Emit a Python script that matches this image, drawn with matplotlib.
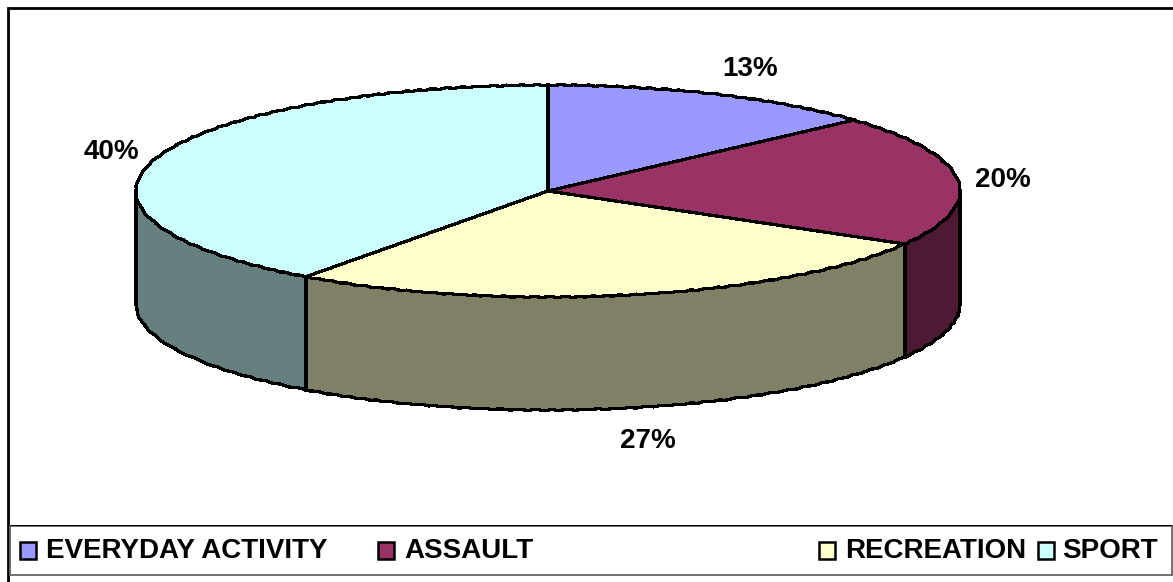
import matplotlib
matplotlib.use("Agg")
import matplotlib.pyplot as plt
import numpy as np
from matplotlib.patches import Rectangle

plt.rcParams["font.family"] = ["Liberation Sans", "DejaVu Sans"]

categories = ["EVERYDAY ACTIVITY", "ASSAULT", "RECREATION", "SPORT"]
values = [13.33, 20, 26.67, 40]
pct_labels = ["13%", "20%", "27%", "40%"]
top_colors = ["#9999FF", "#993366", "#FFFFCC", "#CCFFFF"]
side_colors = ["#4D4D80", "#4D1933", "#808066", "#668080"]

W, H = 1173, 582
CX, CY, RX, RY, DEPTH = 548, 191, 412, 106, 113
EDGE = 1.6
WOBBLE = (0.45, 16, 2)

fig = plt.figure(figsize=(W / 100, H / 100), dpi=100, facecolor="white")
ax = fig.add_axes([0, 0, 1, 1])
ax.axis("off")


def px(x, y):
    # picture pixels -> figure fraction
    return x / W, 1 - y / H


def box(x0, y0, x1, y1, **kw):
    r = Rectangle(px(x0, y1), (x1 - x0) / W, (y1 - y0) / H, transform=fig.transFigure, **kw)
    fig.add_artist(r)


def rough(xs, ys, z):
    line, = ax.plot(xs, ys, color="black", lw=EDGE, zorder=z, antialiased=False)
    line.set_sketch_params(*WOBBLE)


# outer frame runs off the picture on the right and at the bottom
box(7.5, 8, 1190, 600, fc="white", ec="black", lw=2, zorder=-5)
# legend box, grey except the top line
box(9.5, 525.5, 1171.5, 575, fc="white", ec="#666666", lw=1.3, zorder=-3)
box(9.5, 525, 1171.5, 526, fc="black", ec="none", zorder=-2)

# side wall, only the front half of the cylinder shows
d = DEPTH / RY
edges = np.cumsum([0] + values) * 3.6
for i in range(len(values)):
    a0, a1 = max(edges[i], 90), min(edges[i + 1], 270)
    if a1 <= a0:
        continue
    t = np.radians(np.linspace(a0, a1, 120))
    xs = np.sin(t)
    ys = np.cos(t)
    ax.fill(np.r_[xs, xs[::-1]], np.r_[ys, ys[::-1] - d], fc=side_colors[i], ec="none",
            antialiased=False, zorder=1)
    rough(xs, ys - d, 1.5)
    ax.plot([xs[0], xs[0]], [ys[0], ys[0] - d], color="black", lw=EDGE, zorder=1.5, antialiased=False)
    ax.plot([xs[-1], xs[-1]], [ys[-1], ys[-1] - d], color="black", lw=EDGE, zorder=1.5, antialiased=False)

# top of the pie
wedges, _ = ax.pie(values, colors=top_colors, startangle=90, counterclock=False, radius=1,
                   wedgeprops={"edgecolor": "none", "antialiased": False})
for w in wedges:
    w.set_zorder(2)
for i in range(len(values)):
    t = np.radians(np.linspace(edges[i], edges[i + 1], 160))
    rough(np.sin(t), np.cos(t), 3)
    ax.plot([0, np.sin(t[0])], [0, np.cos(t[0])], color="black", lw=EDGE, zorder=3, antialiased=False)
ax.set_aspect("auto")
ax.set_xlim(-CX / RX, (W - CX) / RX)
ax.set_ylim(-(H - CY) / RY, CY / RY)

# percentage labels
label_pos = [(750, 69), (1003, 180), (648, 441), (111, 152)]
for s, (x, y) in zip(pct_labels, label_pos):
    fx, fy = px(x, y)
    fig.text(fx, fy, s, fontsize=20, fontweight="bold", ha="center", va="center")

# legend
legend_x = [(20, 46), (378, 404), (819, 845), (1038, 1062)]
for name, c, (kx, tx) in zip(categories, top_colors, legend_x):
    box(kx, 542, kx + 16, 559, fc=c, ec="black", lw=1.8)
    fx, fy = px(tx, 551)
    fig.text(fx, fy, name, fontsize=20, fontweight="bold", ha="left", va="center")

fig.savefig("out.png", dpi=100)
